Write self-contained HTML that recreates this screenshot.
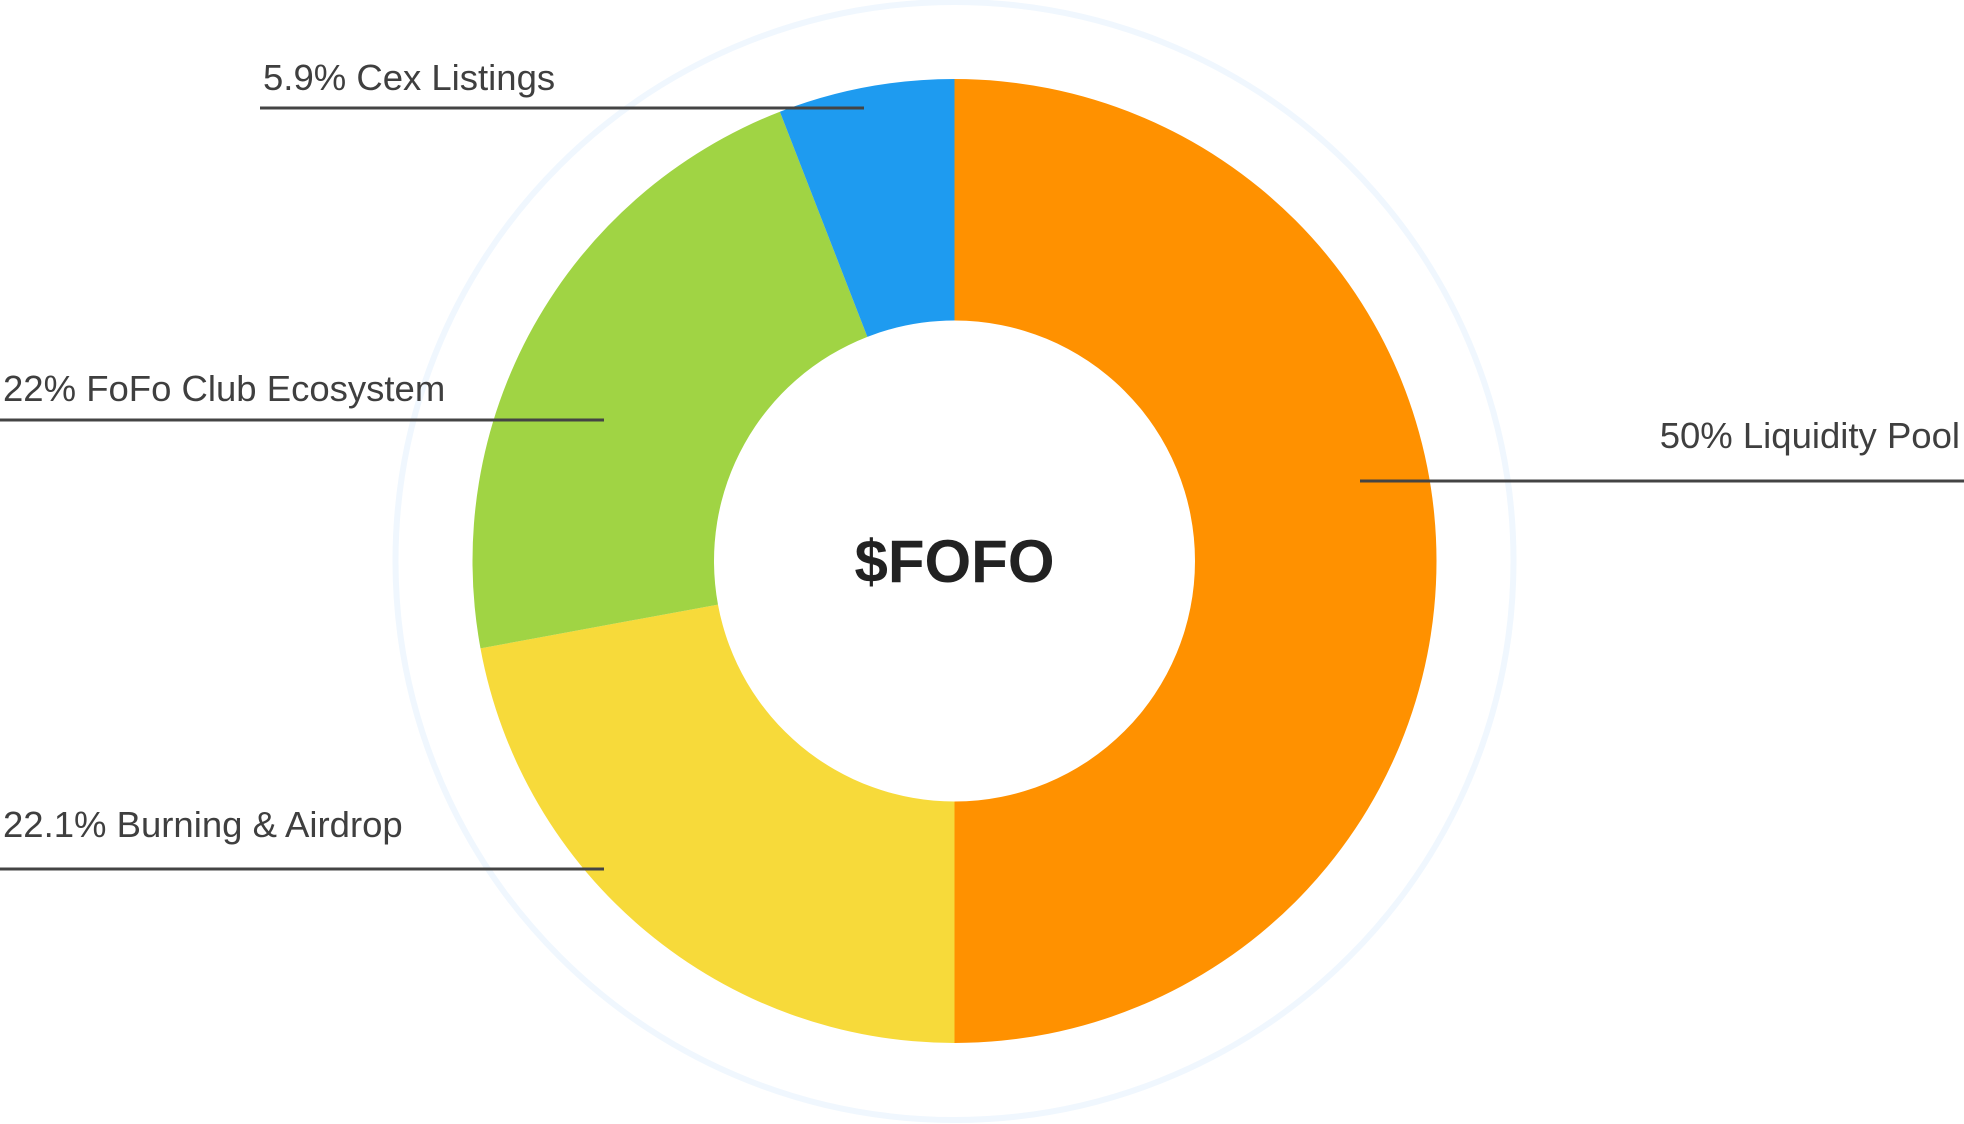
<!DOCTYPE html>
<html><head><meta charset="utf-8"><style>
html,body{margin:0;padding:0;background:#fff;}
svg{display:block;}
text{font-family:"Liberation Sans",sans-serif;fill:#3f3f3f;}
</style></head><body>
<svg id="chart" width="1964" height="1124" viewBox="0 0 1964 1124" xmlns="http://www.w3.org/2000/svg">
<circle cx="954.5" cy="561" r="559" fill="none" stroke="#f0f7fe" stroke-width="6"/>
<g id="slices"></g>
<text x="954.5" y="582" text-anchor="middle" font-size="60" font-weight="bold" style="fill:#222">$FOFO</text>
<g id="labels"></g>
</svg>
<script>
const categories = ["Liquidity Pool","Burning & Airdrop","FoFo Club Ecosystem","Cex Listings"];
const values = [50, 22.1, 22, 5.9];
const valueLabels = ["50%","22.1%","22%","5.9%"];
const colors = ["#FF9100","#F7DA3A","#A0D444","#1E9BF0"];
const cx=954.5, cy=561, R=482, r=240.5;
const ns="http://www.w3.org/2000/svg";
const total=values.reduce((a,b)=>a+b,0);
function pt(a,rad){return [cx+rad*Math.sin(a), cy-rad*Math.cos(a)];}
let acc=0;
const gs=document.getElementById('slices');
values.forEach((v,i)=>{
  const a0=acc/total*2*Math.PI; acc+=v; const a1=acc/total*2*Math.PI;
  const large=(a1-a0)>Math.PI?1:0;
  const [x0,y0]=pt(a0,R),[x1,y1]=pt(a1,R),[x2,y2]=pt(a1,r),[x3,y3]=pt(a0,r);
  const p=document.createElementNS(ns,'path');
  p.setAttribute('d',`M${x0},${y0} A${R},${R} 0 ${large} 1 ${x1},${y1} L${x2},${y2} A${r},${r} 0 ${large} 0 ${x3},${y3} Z`);
  p.setAttribute('fill',colors[i]);
  
  
  gs.appendChild(p);
});
const gl=document.getElementById('labels');
const layout=[[1960,448,'end',1360,1964,481],[3,837,'start',0,604,869],[3,401,'start',0,604,420],[263,90,'start',260,864,108]];
categories.forEach((c,i)=>{
  const L=layout[i];
  const t=document.createElementNS(ns,'text');
  t.setAttribute('x',L[0]);t.setAttribute('y',L[1]);t.setAttribute('text-anchor',L[2]);
  t.setAttribute('font-size','36.5');
  t.textContent=valueLabels[i]+' '+c;
  
  
  gl.appendChild(t);
  const ln=document.createElementNS(ns,'line');
  ln.setAttribute('x1',L[3]);ln.setAttribute('x2',L[4]);ln.setAttribute('y1',L[5]);ln.setAttribute('y2',L[5]);
  ln.setAttribute('stroke','#444');ln.setAttribute('stroke-width','3');
  
  
  gl.appendChild(ln);
});
</script>
</body></html>
